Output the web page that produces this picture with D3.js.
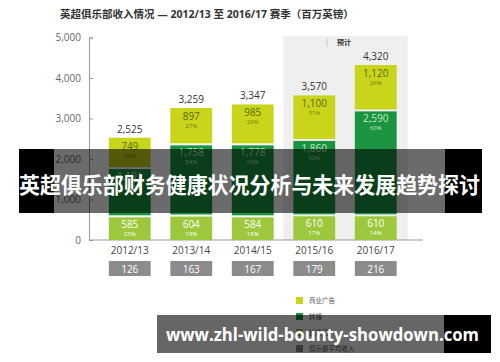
<!DOCTYPE html>
<html>
<head>
<meta charset="utf-8">
<script src="https://cdn.jsdelivr.net/npm/d3@7"></script>
<style>
  body { margin: 0; background: #fff; }
  svg { display: block; }
  text { font-family: "Open Sans", "Noto Sans CJK SC", sans-serif; }
</style>
</head>
<body>
<div id="chart"></div>
<script>
// seasons and revenue pieces (GBP millions)
var seasons = ["2012/13", "2013/14", "2014/15", "2015/16", "2016/17"];
var projected = [false, false, false, true, true];
var totals = [2525, 3259, 3347, 3570, 4320];
var matchday = [585, 604, 584, 610, 610];
var broadcast = [1191, 1758, 1778, 1860, 2590];
var commercial = [749, 897, 985, 1100, 1120];
var matchdayPct = ["23%", "19%", "18%", "17%", "14%"];
var broadcastPct = ["47%", "54%", "53%", "52%", "60%"];
var commercialPct = ["30%", "27%", "29%", "31%", "26%"];
var avgClub = [126, 163, 167, 179, 216];
var yTicks = [0, 1000, 2000, 3000, 4000, 5000];
var legendLabels = ["商业广告", "转播", "比赛日", "俱乐部平均收入"];

var width = 500, height = 362;
var colors = {commercial: "#c9d51a", broadcast: "#1a9440", matchday: "#9dc83d", avg: "#8c8c8c"};

var svg = d3.select("#chart").append("svg")
    .attr("width", width)
    .attr("height", height);

var x = d3.scaleBand()
    .domain(seasons)
    .range([99, 406.5])
    .paddingInner(0.32)
    .paddingOuter(0.16);

var y = d3.scaleLinear()
    .domain([0, 5000])
    .range([240, 37.5]);

// title
svg.append("text")
    .attr("x", 60).attr("y", 18)
    .attr("font-size", 10.5).attr("font-weight", "bold")
    .attr("fill", "#333")
    .text("英超俱乐部收入情况 — 2012/13 至 2016/17 赛季（百万英镑）");

// projection background
var projSeasons = seasons.filter(function (d, i) { return projected[i]; });
var px0 = x(projSeasons[0]) - 10;
var px1 = x(projSeasons[projSeasons.length - 1]) + x.bandwidth() + 11;
svg.append("rect")
    .attr("x", px0).attr("y", 36)
    .attr("width", px1 - px0).attr("height", y(0) - 36)
    .attr("fill", "#efefef");
svg.append("line")
    .attr("x1", 327).attr("x2", 327).attr("y1", 38).attr("y2", 47)
    .attr("stroke", "#ccc");
svg.append("text")
    .attr("x", 337).attr("y", 45)
    .attr("font-size", 7).attr("font-weight", "bold").attr("fill", "#333")
    .text("预计");

// y axis
var yAxis = svg.append("g")
    .attr("transform", "translate(89,0)")
    .call(d3.axisLeft(y).tickValues(yTicks).tickSize(-4).tickPadding(8)
        .tickFormat(d3.format(",")));
yAxis.select(".domain").attr("stroke", "#999");
yAxis.selectAll(".tick line").attr("stroke", "#999");
yAxis.selectAll(".tick text")
    .attr("font-size", 10).attr("fill", "#666")
    .attr("font-family", "Open Sans, sans-serif");

svg.append("line")
    .attr("x1", 89).attr("x2", 423)
    .attr("y1", y(0)).attr("y2", y(0))
    .attr("stroke", "#999");

// stacked pieces
var gap = 1;
var rows = seasons.map(function (s, i) {
    return {
        season: s, i: i,
        parts: [
            {key: "matchday", v0: 0, v1: matchday[i], val: matchday[i], pct: matchdayPct[i], tc: "#fff", pc: "#fff"},
            {key: "broadcast", v0: matchday[i], v1: matchday[i] + broadcast[i], val: broadcast[i], pct: broadcastPct[i], tc: "#c3e6c0", pc: "#c3e6c0"},
            {key: "commercial", v0: matchday[i] + broadcast[i], v1: totals[i], val: commercial[i], pct: commercialPct[i], tc: "#5d6a05", pc: "#6f7c10"}
        ]
    };
});

var bar = svg.selectAll("g.bar")
    .data(rows)
    .enter().append("g")
    .attr("class", "bar")
    .attr("transform", function (d) { return "translate(" + x(d.season) + ",0)"; });

var seg = bar.selectAll("g.seg")
    .data(function (d) { return d.parts; })
    .enter().append("g").attr("class", "seg");

seg.append("rect")
    .attr("x", 0)
    .attr("width", x.bandwidth())
    .attr("y", function (d) { return y(d.v1) + (d.key === "commercial" ? 0 : gap); })
    .attr("height", function (d) { return y(d.v0) - y(d.v1) - (d.key === "commercial" ? gap : gap * 2) + (d.key === "matchday" ? gap : 0); })
    .attr("fill", function (d) { return colors[d.key]; });

seg.append("text")
    .attr("x", x.bandwidth() / 2)
    .attr("y", function (d) { return y(d.v1) + 12; })
    .attr("text-anchor", "middle")
    .attr("font-size", 10)
    .attr("fill", function (d) { return d.tc; })
    .text(function (d) { return d3.format(",")(d.val); });

seg.append("text")
    .attr("x", x.bandwidth() / 2)
    .attr("y", function (d) { return y(d.v1) + 20; })
    .attr("text-anchor", "middle")
    .attr("font-size", 6)
    .attr("fill", function (d) { return d.pc; })
    .text(function (d) { return d.pct; });

bar.append("text")
    .attr("x", x.bandwidth() / 2)
    .attr("y", function (d) { return y(totals[d.i]) - 5; })
    .attr("text-anchor", "middle")
    .attr("font-size", 10).attr("fill", "#333")
    .text(function (d) { return d3.format(",")(totals[d.i]); });

// season labels and club average boxes
bar.append("text")
    .attr("x", x.bandwidth() / 2)
    .attr("y", 254)
    .attr("text-anchor", "middle")
    .attr("font-size", 10).attr("fill", "#444")
    .text(function (d) { return d.season; });

bar.append("rect")
    .attr("x", 0).attr("y", 261)
    .attr("width", x.bandwidth()).attr("height", 15)
    .attr("fill", colors.avg);

bar.append("text")
    .attr("x", x.bandwidth() / 2)
    .attr("y", 272.5)
    .attr("text-anchor", "middle")
    .attr("font-size", 10).attr("fill", "#fff")
    .text(function (d) { return avgClub[d.i]; });

// legend
var legendColors = [colors.commercial, colors.broadcast, colors.matchday, colors.avg];
var legendY = [297, 313, 329, 345];
var lg = svg.selectAll("g.legend")
    .data(legendLabels)
    .enter().append("g").attr("class", "legend")
    .attr("transform", function (d, i) { return "translate(296," + legendY[i] + ")"; });
lg.append("rect")
    .attr("width", 7).attr("height", 7)
    .attr("fill", function (d, i) { return legendColors[i]; });
lg.append("text")
    .attr("x", 13).attr("y", 6)
    .attr("font-size", 6.5).attr("fill", "#555")
    .attr("font-family", "Noto Sans CJK SC, sans-serif")
    .text(function (d) { return d; });

// overlay bands on top of the picture
svg.append("rect").attr("x", 19).attr("y", 149).attr("width", 35).attr("height", 64).attr("fill", "#000");
svg.append("rect").attr("x", 445).attr("y", 149).attr("width", 37).attr("height", 64).attr("fill", "#000");
svg.append("rect").attr("x", 54).attr("y", 149).attr("width", 391).attr("height", 64).attr("fill", "rgba(0,0,0,0.58)");
svg.append("text")
    .attr("x", 19).attr("y", 193)
    .attr("font-size", 22).attr("font-weight", "bold").attr("fill", "#fff")
    .attr("textLength", 461).attr("lengthAdjust", "spacingAndGlyphs")
    .attr("font-family", "Noto Sans CJK SC, sans-serif")
    .text("英超俱乐部财务健康状况分析与未来发展趋势探讨");

svg.append("rect").attr("x", 157).attr("y", 315).attr("width", 287).attr("height", 38).attr("fill", "rgba(0,0,0,0.6)");
svg.append("rect").attr("x", 444).attr("y", 315).attr("width", 47).attr("height", 38).attr("fill", "#000");
svg.append("text")
    .attr("x", 166).attr("y", 341)
    .attr("font-size", 17).attr("font-weight", "bold").attr("fill", "#fff")
    .attr("textLength", 313).attr("lengthAdjust", "spacingAndGlyphs")
    .text("www.zhl-wild-bounty-showdown.com");
</script>
</body>
</html>
